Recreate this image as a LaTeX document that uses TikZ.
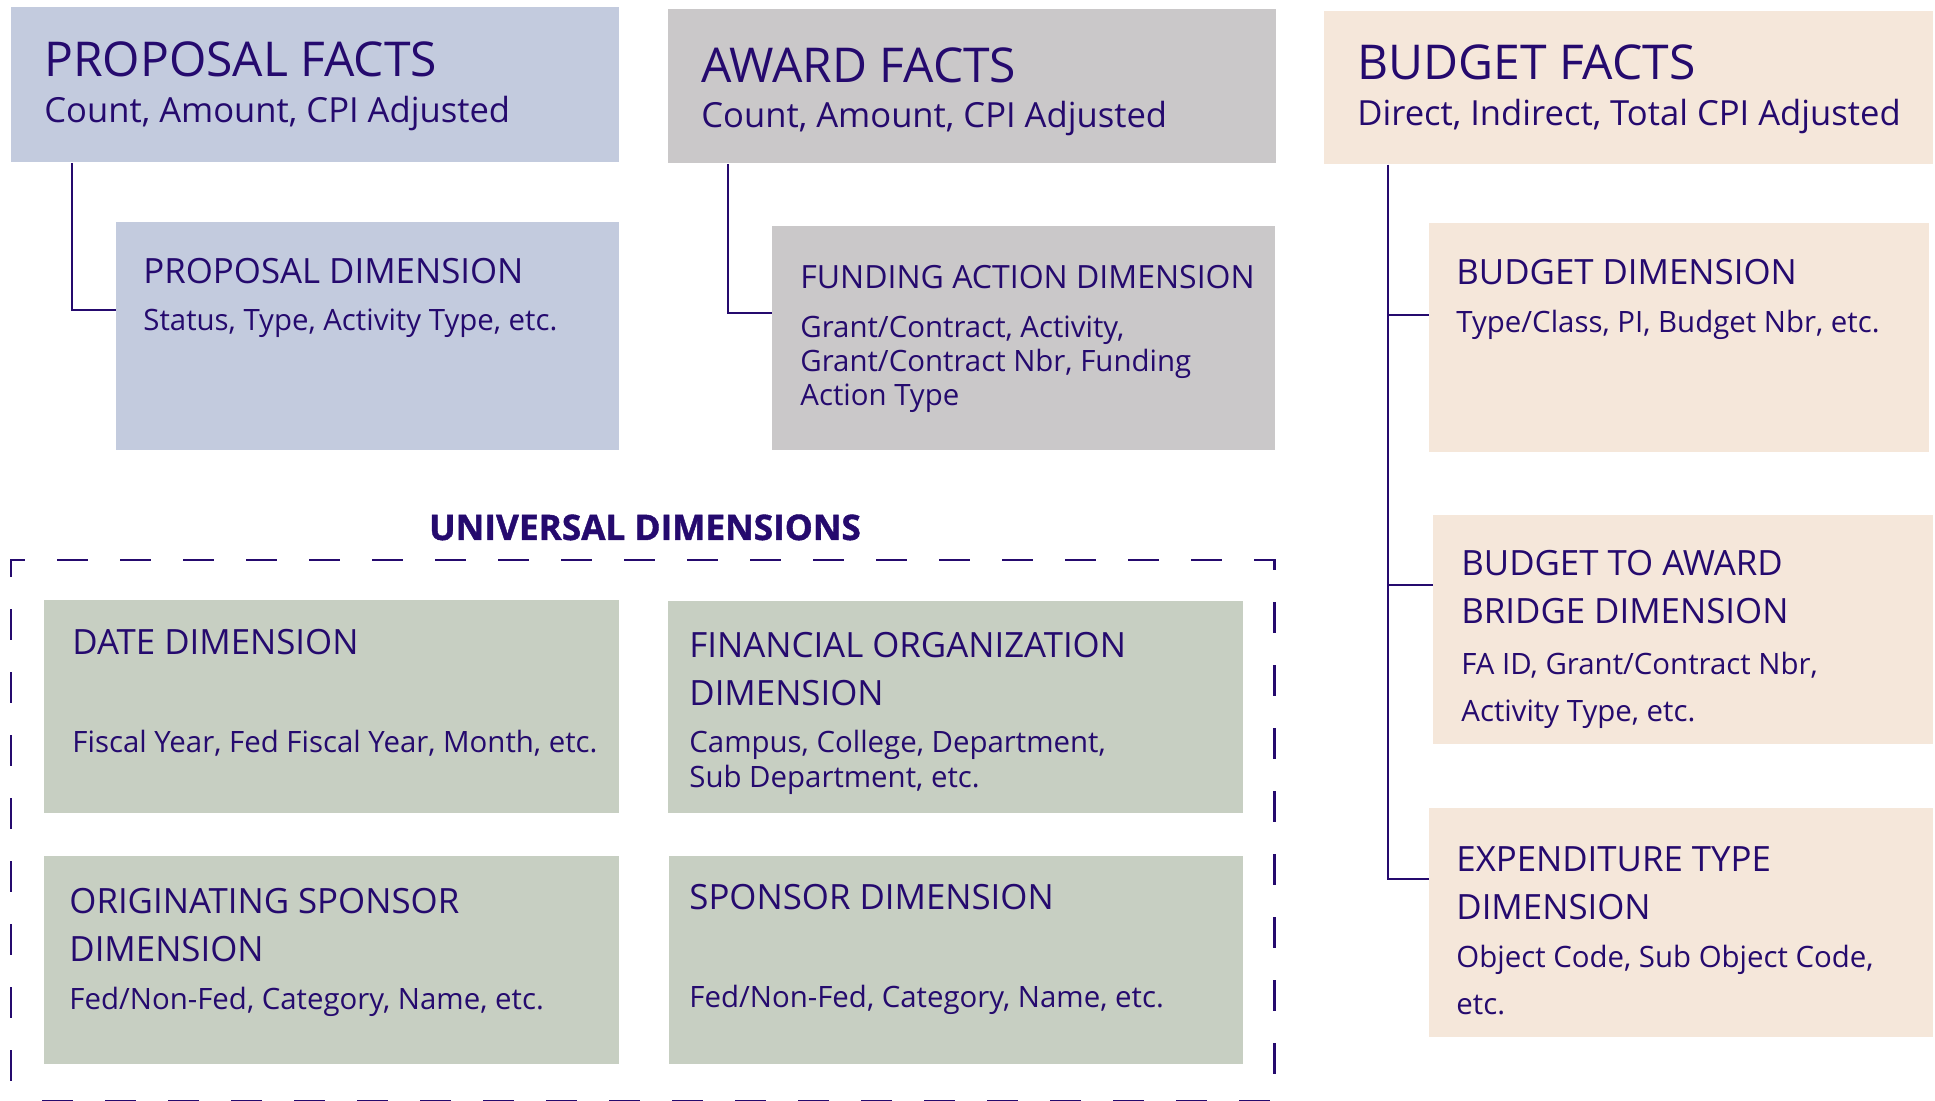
\documentclass[tikz,border=0pt]{standalone}
\usepackage{fontspec}
\setmainfont{Open Sans}
\usepackage{tikz}
\definecolor{ink}{HTML}{250A6E}
\definecolor{proposalfill}{HTML}{C3CBDE}
\definecolor{awardfill}{HTML}{CAC8C9}
\definecolor{budgetfill}{HTML}{F5E7DA}
\definecolor{universalfill}{HTML}{C7CFC2}
\tikzstyle{Box}=[shape=rectangle, draw=none, anchor=north west, inner sep=0]
\tikzstyle{Proposal}=[Box, fill=proposalfill]
\tikzstyle{Award}=[Box, fill=awardfill]
\tikzstyle{Budget}=[Box, fill=budgetfill]
\tikzstyle{Universal}=[Box, fill=universalfill]
\tikzstyle{FactTitle}=[anchor=base west, inner sep=0, text=ink, font=\fontsize{24}{28}\selectfont]
\tikzstyle{FactText}=[anchor=base west, inner sep=0, text=ink, font=\fontsize{17.3}{20}\selectfont]
\tikzstyle{DimTitle}=[anchor=base west, inner sep=0, text=ink, align=left, font=\fontsize{17.4}{24}\selectfont]
\tikzstyle{DimText}=[anchor=base west, inner sep=0, text=ink, align=left, font=\fontsize{14.7}{17.2}\selectfont]
\tikzstyle{DimTextWide}=[DimText, font=\fontsize{14.7}{23.5}\selectfont]
\tikzstyle{Heading}=[anchor=base, inner sep=0, text=ink, font=\fontsize{17.6}{22}\selectfont\bfseries\addfontfeature{FakeBold=1.2}]
\tikzstyle{link}=[line width=1.3pt, draw=ink]
\tikzstyle{border}=[line width=1.4pt, draw=ink, dash pattern=on 15.5pt off 16pt, dash phase=21pt]
\pgfdeclarelayer{nodelayer}
\pgfdeclarelayer{edgelayer}
\pgfsetlayers{nodelayer, edgelayer}

\begin{document}
\begin{tikzpicture}[x=0.5pt, y=-0.5pt]
	\fill [white] (0, 0) rectangle (1935, 1101);
	\useasboundingbox (0, 0) rectangle (1935, 1101);
	\begin{pgfonlayer}{nodelayer}
		\node [style=Proposal, minimum width=304pt, minimum height=77.5pt] (pf) at (11, 7) {};
		\node [style=Proposal, minimum width=251.5pt, minimum height=114pt] (pd) at (116, 222) {};
		\node [style=Award, minimum width=304pt, minimum height=77pt] (af) at (668, 9) {};
		\node [style=Award, minimum width=251.5pt, minimum height=112pt] (fd) at (772, 226) {};
		\node [style=Budget, minimum width=304.5pt, minimum height=76.5pt] (bf) at (1324, 11) {};
		\node [style=Budget, minimum width=250pt, minimum height=114.5pt] (bd) at (1429, 223) {};
		\node [style=Budget, minimum width=250pt, minimum height=114.5pt] (bb) at (1433, 515) {};
		\node [style=Budget, minimum width=252pt, minimum height=114.5pt] (ed) at (1429, 808) {};
		\node [style=Universal, minimum width=287.5pt, minimum height=106.5pt] (dd) at (44, 600) {};
		\node [style=Universal, minimum width=287.5pt, minimum height=106pt] (fo) at (668, 601) {};
		\node [style=Universal, minimum width=287.5pt, minimum height=104pt] (os) at (44, 856) {};
		\node [style=Universal, minimum width=287pt, minimum height=104pt] (sp) at (669, 856) {};
		\node [style=Box, minimum width=631.5pt, minimum height=270.5pt] (frame) at (11, 560) {};

		% multi-line texts sit on the baseline of their last line
		\node [style=FactTitle] (pftitle) at (44, 77) {PROPOSAL FACTS};
		\node [style=FactText] (pftext) at (44, 123) {Count, Amount, CPI Adjusted};
		\node [style=DimTitle] (pdtitle) at (143, 284) {PROPOSAL DIMENSION};
		\node [style=DimText] (pdtext) at (143, 331) {Status, Type, Activity Type, etc.};

		\node [style=FactTitle] (aftitle) at (701, 83) {AWARD FACTS};
		\node [style=FactText] (aftext) at (701, 128) {Count, Amount, CPI Adjusted};
		\node [style=DimTitle, font=\fontsize{16}{20}\selectfont] (fdtitle) at (800, 289) {FUNDING ACTION DIMENSION};
		\node [style=DimText] (fdtext) at (800, 406) {Grant/Contract, Activity,\\Grant/Contract Nbr, Funding\\Action Type};

		\node [style=FactTitle] (bftitle) at (1357, 80) {BUDGET FACTS};
		\node [style=FactText] (bftext) at (1357, 126) {Direct, Indirect, Total CPI Adjusted};
		\node [style=DimTitle] (bdtitle) at (1456, 285) {BUDGET DIMENSION};
		\node [style=DimText] (bdtext) at (1456, 333) {Type/Class, PI, Budget Nbr, etc.};
		\node [style=DimTitle] (bbtitle) at (1461, 624) {BUDGET TO AWARD\\BRIDGE DIMENSION};
		\node [style=DimTextWide] (bbtext) at (1461, 721) {FA ID, Grant/Contract Nbr,\\Activity Type, etc.};
		\node [style=DimTitle] (edtitle) at (1456, 919) {EXPENDITURE TYPE\\DIMENSION};
		\node [style=DimTextWide] (edtext) at (1456, 1014) {Object Code, Sub Object Code,\\etc.};

		\node [style=Heading] (universal) at (645, 540) {UNIVERSAL DIMENSIONS};
		\node [style=DimTitle] (ddtitle) at (72, 655) {DATE DIMENSION};
		\node [style=DimText] (ddtext) at (72, 753) {Fiscal Year, Fed Fiscal Year, Month, etc.};
		\node [style=DimTitle] (fotitle) at (689, 705) {FINANCIAL ORGANIZATION\\DIMENSION};
		\node [style=DimText] (fotext) at (689, 787) {Campus, College, Department,\\Sub Department, etc.};
		\node [style=DimTitle] (ostitle) at (69, 961) {ORIGINATING SPONSOR\\DIMENSION};
		\node [style=DimText] (ostext) at (69, 1009) {Fed/Non-Fed, Category, Name, etc.};
		\node [style=DimTitle] (sptitle) at (689, 909) {SPONSOR DIMENSION};
		\node [style=DimText] (sptext) at (689, 1007) {Fed/Non-Fed, Category, Name, etc.};
	\end{pgfonlayer}
	\begin{pgfonlayer}{edgelayer}
		\coordinate (stemP) at (72, 310);
		\coordinate (stemA) at (728, 313);
		\coordinate (stemB) at (1388, 315);
		\coordinate (joinBb) at (1388, 585);
		\coordinate (joinEd) at (1388, 879);
		\draw [style=link] (pf.south -| stemP) |- (pd.west |- stemP);
		\draw [style=link] (af.south -| stemA) |- (fd.west |- stemA);
		\draw [style=link] (bf.south -| stemB) |- (bd.west |- stemB);
		\draw [style=link] (bf.south -| stemB) |- (bb.west |- joinBb);
		\draw [style=link] (bf.south -| stemB) |- (ed.west |- joinEd);

		% dashed frame round the universal dimensions
		\draw [style=border] (frame.south west) -- (frame.north west) -- (frame.north east) -- (frame.south east) -- cycle;
	\end{pgfonlayer}
\end{tikzpicture}
\end{document}
